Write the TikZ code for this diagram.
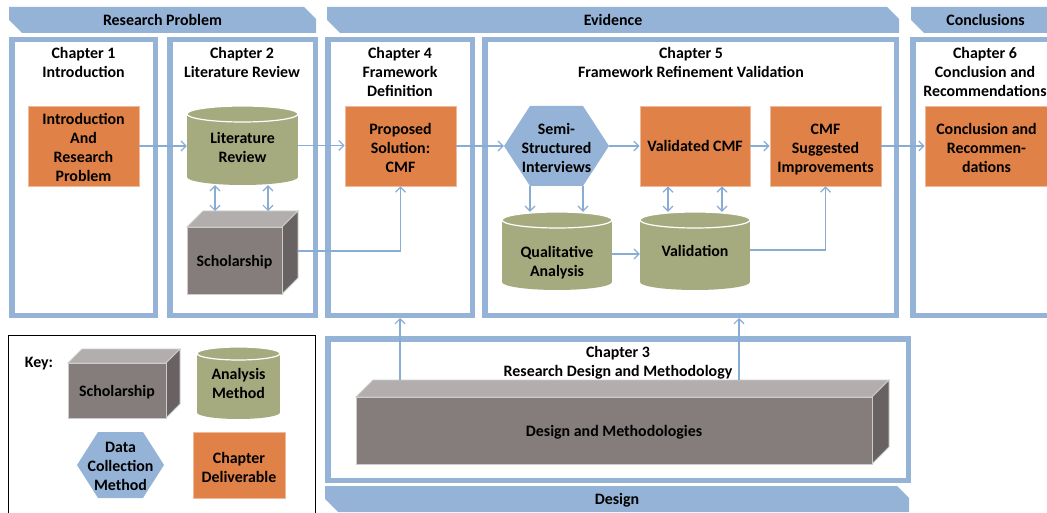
\documentclass[tikz,border=0pt]{standalone}
\usepackage{fontspec}
\setmainfont{Carlito}
\usetikzlibrary{arrows.meta,calc}

\definecolor{frameblue}{RGB}{149,179,215}
\definecolor{linkblue}{RGB}{137,172,212}
\definecolor{deliver}{RGB}{224,129,72}
\definecolor{analysis}{RGB}{166,170,127}
\definecolor{cubefront}{RGB}{133,124,124}
\definecolor{cubetop}{RGB}{178,174,173}
\definecolor{cubeside}{RGB}{105,98,98}
\definecolor{cubeedge}{RGB}{205,203,203}

\newcommand\lbl{\fontsize{15.9}{19}\selectfont\bfseries}

% banner bar with two snipped corners: name, left, right, top, bottom, text, text y
\newcommand\bannerbar[7]{%
  \fill[frameblue] (#2,#4) -- ({#3-12},#4) -- (#3,{#4+12}) -- (#3,#5)
    -- ({#2+13},#5) -- (#2,{#5-13}) -- cycle;
  \node[txt] (#1) at ({(#2+#3)/2},#7) {#6};
}

% chapter deliverable: name, centre x, centre y, width, height, text, text y
\newcommand\delivbox[7]{%
  \node[deliv, minimum width=#4, minimum height=#5] (#1) at (#2,#3) {};
  \node[txt] (#1-text) at (#2,#7) {#6};
}

% 3-D block: name, left, top, right, bottom (front face), depth, text, text y
\newcommand\cubebox[8]{%
  \filldraw[fill=cubetop, draw=cubeedge, line width=0.8pt]
    (#2,#3) -- ({#2+#6},{#3-#6}) -- ({#4+#6},{#3-#6}) -- (#4,#3) -- cycle;
  \filldraw[fill=cubeside, draw=cubeedge, line width=0.8pt]
    (#4,#3) -- ({#4+#6},{#3-#6}) -- ({#4+#6},{#5-#6}) -- (#4,#5) -- cycle;
  \node[blockface, minimum width={#4-#2}, minimum height={#5-#3}]
    (#1) at ({(#2+#4)/2},{(#3+#5)/2}) {};
  \node[txt] (#1-text) at ({(#2+#4)/2},#8) {#7};
  \coordinate (#1-top) at ({#2+#6},{#3-#6});
}

% cylinder: name, left, top, right, bottom, rim radius, text, text y
\newcommand\drumbox[8]{%
  \fill[analysis] (#2,{#3+#6}) rectangle (#4,{#5-#6});
  \fill[analysis] ({(#2+#4)/2},{#5-#6}) ellipse [x radius={(#4-#2)/2}, y radius=#6];
  \filldraw[fill=analysis, draw=white, line width=1.2pt]
    ({(#2+#4)/2},{#3+#6}) ellipse [x radius={(#4-#2)/2}, y radius=#6];
  \node[plainbox, minimum width={#4-#2}, minimum height={#5-#3}]
    (#1) at ({(#2+#4)/2},{(#3+#5)/2}) {};
  \node[txt] (#1-text) at ({(#2+#4)/2},#8) {#7};
}

% hexagon: name, left, top, right, bottom, inset, text, text y
\newcommand\hexbox[8]{%
  \fill[frameblue]
    (#2,{(#3+#5)/2}) -- ({#2+#6},#3) -- ({#4-#6},#3) -- (#4,{(#3+#5)/2})
    -- ({#4-#6},#5) -- ({#2+#6},#5) -- cycle;
  \node[plainbox, minimum width={#4-#2}, minimum height={#5-#3}]
    (#1) at ({(#2+#4)/2},{(#3+#5)/2}) {};
  \node[txt] (#1-text) at ({(#2+#4)/2},#8) {#7};
}

\begin{document}
\begin{tikzpicture}[x=1pt, y=-1pt,
  txt/.style={font=\lbl, align=center, text=black, inner sep=0pt},
  plainbox/.style={rectangle, inner sep=0pt},
  chapframe/.style={rectangle, draw=frameblue, line width=5.5pt, inner sep=0pt},
  deliv/.style={rectangle, fill=deliver, draw=deliver!55!white, line width=0.8pt,
    inner sep=0pt},
  blockface/.style={rectangle, fill=cubefront, draw=cubeedge, line width=0.8pt,
    inner sep=0pt},
  conn/.style={draw=linkblue, line width=1.2pt,
    -{Straight Barb[length=5pt,width=10pt]}},
  dconn/.style={draw=linkblue, line width=1.2pt,
    {Straight Barb[length=5pt,width=10pt]}-{Straight Barb[length=5pt,width=10pt]}}]

\useasboundingbox (0,0) rectangle (1047,513);

% chapter frames
\node[chapframe, minimum width=143.5, minimum height=275.5] (ch1) at (83.5,177.5) {};
\node[chapframe, minimum width=145.5, minimum height=275.5] (ch2) at (242.5,177.5) {};
\node[chapframe, minimum width=144.5, minimum height=275.5] (ch4) at (400,177.5) {};
\node[chapframe, minimum width=411.5, minimum height=275.5] (ch5) at (690.5,177.5) {};
\node[chapframe, minimum width=146.5, minimum height=275.5] (ch6) at (986,177.5) {};
\node[chapframe, minimum width=580.5, minimum height=141.5] (ch3) at (618,409.5) {};

% key frame
\node[rectangle, draw=black, line width=0.8pt, inner sep=0pt,
  minimum width=307, minimum height=182] (key) at (162,426) {};

% phase banners
\bannerbar{rp}{9}{316}{7}{33}{Research Problem}{20}
\bannerbar{ev}{327}{899}{7}{33}{Evidence}{20}
\bannerbar{co}{911}{1060}{7}{33}{Conclusions}{20}
\bannerbar{de}{325}{909}{486}{512}{Design}{500}

% chapter titles
\node[txt] (t1) at (83.5,62.5) {Chapter 1\\Introduction};
\node[txt] (t2) at (242,62.5) {Chapter 2\\Literature Review};
\node[txt] (t4) at (400,72) {Chapter 4\\Framework\\Definition};
\node[txt] (t5) at (691,62.5) {Chapter 5\\Framework Refinement Validation};
\node[txt] (t6) at (985,72) {Chapter 6\\Conclusion and\\Recommendations};
\node[txt] (t3) at (618,363) {Chapter 3\\Research Design and Methodology};

% chapter deliverables
\delivbox{intro}{83.5}{146}{111}{80}{Introduction\\And\\Research\\Problem}{147.5}
\delivbox{ps}{400.5}{146}{111}{80}{Proposed\\Solution:\\CMF}{148}
\delivbox{vcmf}{695}{146}{110}{80}{Validated CMF}{146}
\delivbox{csi}{825.5}{146}{111}{80}{CMF\\Suggested\\Improvements}{149.5}
\delivbox{cr}{986.5}{146}{123}{80}{Conclusion and\\Recommen-\\dations}{147.5}

% analysis methods
\drumbox{lit}{187}{106}{298}{185}{8}{Literature\\Review}{147.5}
\drumbox{qa}{502}{212}{612}{290}{8}{Qualitative\\Analysis}{263}
\drumbox{val}{640}{212}{750}{290}{8}{Validation}{251}

% scholarship blocks
\cubebox{schol}{187}{227}{282}{294}{16}{Scholarship}{262.5}
\cubebox{dm}{356}{397}{872}{464}{17}{Design and Methodologies}{432.5}

% data collection
\hexbox{ssi}{504}{106}{609}{186}{26}{Semi-\\Structured\\Interviews}{147.5}

% key entries
\node[txt] (keylabel) at (39,364) {Key:};
\cubebox{kschol}{68}{363}{166}{418}{14}{Scholarship}{392.5}
\drumbox{kdrum}{197}{347}{280}{419}{6.5}{Analysis\\Method}{383.5}
\hexbox{kdcm}{77}{432}{164}{498}{21}{Data\\Collection\\Method}{466.5}
\delivbox{kdel}{239}{465}{92}{66}{Chapter\\Deliverable}{467}

% helper points on the node borders
\path ([xshift=-27.5pt]lit.south) coordinate (l1)
      ([xshift=25.5pt]lit.south) coordinate (l2)
      ([xshift=-26.5pt]ssi.south) coordinate (s1)
      ([xshift=26.5pt]ssi.south) coordinate (s2)
      ([xshift=-27pt]vcmf.south) coordinate (v1)
      ([xshift=27pt]vcmf.south) coordinate (v2)
      ([xshift=48.5pt]ch5.south) coordinate (ch5-in);

% main flow
\draw[conn] (intro.east) -- (intro.east -| lit.west);
\draw[conn] (lit.east) -- (lit.east -| ps.west);
\draw[conn] (ps.east) -- (ps.east -| ssi.west);
\draw[conn] (ssi.east) -- (ssi.east -| vcmf.west);
\draw[conn] (vcmf.east) -- (vcmf.east -| csi.west);
\draw[conn] (csi.east) -- (csi.east -| cr.west);

% links between literature and scholarship
\draw[dconn] (l1) -- (l1 |- schol-top);
\draw[dconn] (l2) -- (l2 |- schol-top);
\draw[conn] ([xshift=16pt,yshift=9.5pt]schol.east) -| (ps.south);

% interviews to analysis, analysis to validation
\draw[conn] (s1) -- (s1 |- qa.north);
\draw[conn] (s2) -- (s2 |- qa.north);
\draw[conn] ([yshift=-3pt]qa.east) -- ([yshift=-3pt]qa.east -| val.west);
\draw[dconn] (v1) -- (v1 |- val.north);
\draw[dconn] (v2) -- (v2 |- val.north);
\draw[conn] ([yshift=1pt]val.east) -| (csi.south);

% methodology feeding chapters 4 and 5
\draw[conn] (ch4.south |- dm-top) -- (ch4.south);
\draw[conn] (ch5-in |- dm-top) -- (ch5-in);

\end{tikzpicture}
\end{document}
